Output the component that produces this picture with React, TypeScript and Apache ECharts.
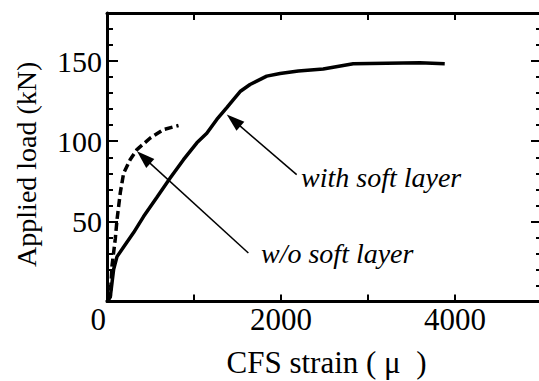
import React, { useEffect, useRef } from 'react';
import * as echarts from 'echarts';

// with soft layer (solid)
const strainWith = [0, 38, 76, 115, 191, 306, 420, 574, 726, 879, 1033, 1147, 1262, 1377, 1453, 1530, 1644, 1836, 1989, 2199, 2485, 2830, 3595, 3882];
const loadWith = [0, 3, 20, 28, 34, 43, 53, 65, 77, 88.5, 99, 105, 113.6, 121, 126, 131, 135.4, 140.6, 142.3, 143.8, 145, 148.3, 149, 148.4];
// w/o soft layer (dashed)
const strainWo = [0, 38, 57, 95, 115, 153, 191, 267, 344, 497, 650, 822];
const loadWo = [0, 3, 22, 39, 51, 68, 80, 88.6, 94.8, 102, 107.3, 109.8];

// arrow annotations: [start, end] in data units
const arrowWith = [[2180, 79.2], [1455, 113]];
const arrowWo = [[1625, 30.25], [421, 89.9]];

const xTicks = [0, 2000, 4000];
const yTicks = [50, 100, 150];
const xName = 'CFS strain ( μ  )';
const yName = 'Applied load (kN)';

const FONT = 'Liberation Serif';

export default function App() {
  const ref = useRef<HTMLDivElement>(null);
  useEffect(() => {
    const chart = echarts.init(ref.current!, null, { renderer: 'svg' });
    const frame = { show: true, onZero: false, lineStyle: { color: '#000', width: 3 } };
    const noLine = { show: false, onZero: false };
    const tick = (len: number) => ({ inside: true, length: len, lineStyle: { color: '#000', width: 2 } });
    const base = { type: 'value', splitLine: { show: false }, axisLabel: { show: false } };
    chart.setOption({
      animation: false,
      backgroundColor: '#fff',
      grid: { left: 107, right: 3, top: 13, bottom: 79.5, containLabel: false },
      xAxis: [
        { ...base, position: 'bottom', min: 0, max: 5000, interval: 1000, axisLine: frame, axisTick: tick(7) },
        { ...base, position: 'top', min: 0, max: 5000, interval: 1000, axisLine: frame, axisTick: tick(7) },
      ],
      yAxis: [
        { ...base, position: 'left', min: 0, max: 180, interval: 50, axisLine: frame, axisTick: tick(11) },
        { ...base, position: 'left', min: 0, max: 180, interval: 10, axisLine: noLine, axisTick: tick(6) },
        { ...base, position: 'right', min: 0, max: 180, interval: 50, axisLine: frame, axisTick: tick(11) },
        { ...base, position: 'right', min: 0, max: 180, interval: 10, axisLine: noLine, axisTick: tick(6) },
      ],
      series: [
        {
          name: 'with soft layer', type: 'line', xAxisIndex: 0, yAxisIndex: 0,
          data: strainWith.map((x, i) => [x, loadWith[i]]),
          showSymbol: false, smooth: false,
          lineStyle: { color: '#000', width: 3.5 },
          markLine: {
            silent: true, symbol: ['none', 'triangle'], symbolSize: [12, 18],
            label: { show: false },
            lineStyle: { color: '#000', width: 1.5, type: 'solid' },
            data: [
              [{ coord: arrowWith[0] }, { coord: arrowWith[1] }],
              [{ coord: arrowWo[0] }, { coord: arrowWo[1] }],
            ],
          },
        },
        {
          name: 'w/o soft layer', type: 'line', xAxisIndex: 0, yAxisIndex: 0,
          data: strainWo.map((x, i) => [x, loadWo[i]]),
          showSymbol: false, smooth: false,
          lineStyle: { color: '#000', width: 3.5, type: [8, 4] },
        },
      ],
    });

    // axis texts placed through the axes' own scales
    const px = (v: number) => chart.convertToPixel({ xAxisIndex: 0 }, v) as number;
    const py = (v: number) => chart.convertToPixel({ yAxisIndex: 0 }, v) as number;
    const x0 = px(0);
    const y0 = py(0);
    const texts: any[] = [];
    xTicks.forEach((v) => {
      texts.push({
        type: 'text', x: v === 0 ? x0 - 1 : px(v), y: y0 + 18,
        style: { text: String(v), fill: '#000', font: `31px ${FONT}`, align: v === 0 ? 'right' : 'center', verticalAlign: 'middle' },
      });
    });
    yTicks.forEach((v) => {
      texts.push({
        type: 'text', x: x0 - 5, y: py(v),
        style: { text: String(v), fill: '#000', font: `30px ${FONT}`, align: 'right', verticalAlign: 'middle' },
      });
    });
    texts.push({
      type: 'text', x: (px(0) + px(5000)) / 2 + 2, y: y0 + 61,
      style: { text: xName, fill: '#000', font: `31px ${FONT}`, align: 'center', verticalAlign: 'middle' },
    });
    texts.push({
      type: 'text', x: 26, y: (py(0) + py(180)) / 2 + 7, rotation: Math.PI / 2,
      style: { text: yName, fill: '#000', font: `28px ${FONT}`, align: 'center', verticalAlign: 'middle' },
    });
    texts.push({
      type: 'text', x: 301, y: 177,
      style: { text: 'with soft layer', fill: '#000', font: `italic 28px ${FONT}`, align: 'left', verticalAlign: 'middle' },
    });
    texts.push({
      type: 'text', x: 261, y: 253,
      style: { text: 'w/o soft layer', fill: '#000', font: `italic 28px ${FONT}`, align: 'left', verticalAlign: 'middle' },
    });
    chart.setOption({ graphic: texts });
    return () => chart.dispose();
  }, []);
  return (
    <div style={{ position: 'absolute', left: 0, top: 0, width: 539, height: 381, overflow: 'hidden', background: '#fff' }}>
      <div ref={ref} style={{ width: 545, height: 381 }} />
    </div>
  );
}
